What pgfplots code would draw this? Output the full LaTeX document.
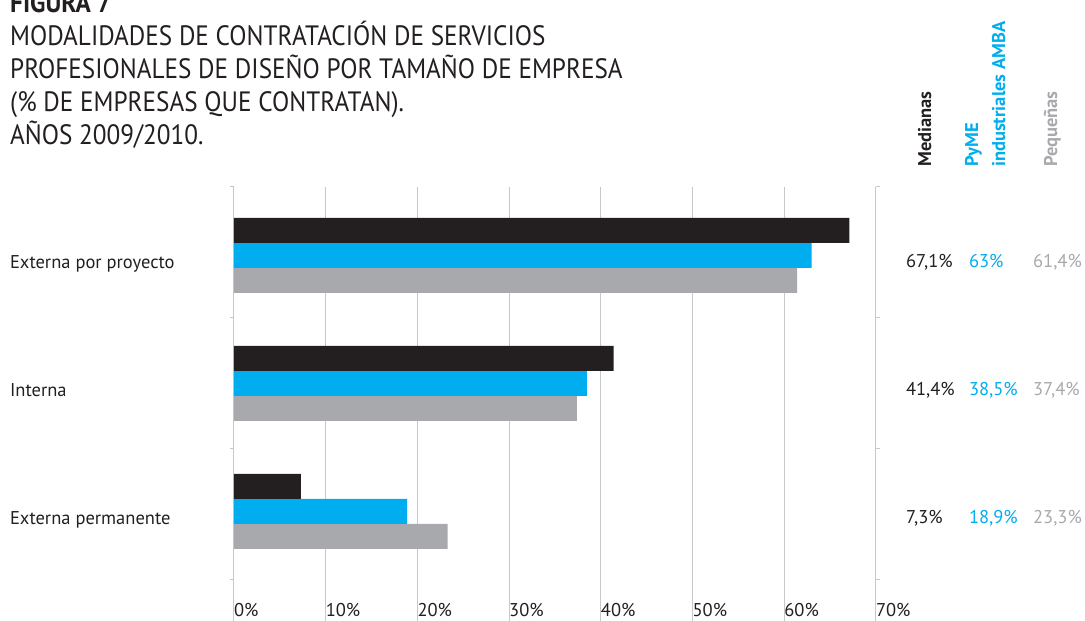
\documentclass[border=0pt]{standalone}
\usepackage{fontspec}
\setmainfont{PT Sans}
\newfontfamily\titlefont[FakeStretch=0.9]{PT Sans}
\usepackage{pgfplots}
\pgfplotsset{compat=1.18}
\definecolor{negro}{HTML}{231F20}
\definecolor{celeste}{HTML}{00AEEF}
\definecolor{gris}{HTML}{A7A9AC}
\definecolor{grilla}{HTML}{C7C8CA}
\newcommand{\fs}[1]{\fontsize{#1bp}{#1bp}\selectfont}

\begin{document}
\begin{tikzpicture}[x=1bp,y=1bp]
\useasboundingbox (0,0) rectangle (1085,621);

% titulo
\begin{scope}[every node/.style={anchor=base west, inner sep=0pt, text=negro, font=\titlefont\fs{28}}]
\node[font=\titlefont\fs{28}\bfseries] at (10,608) {FIGURA 7};
\node at (10,575) {MODALIDADES DE CONTRATACIÓN DE SERVICIOS};
\node at (10,542) {PROFESIONALES DE DISEÑO POR TAMAÑO DE EMPRESA};
\node at (10,509) {(\% DE EMPRESAS QUE CONTRATAN).};
\node at (10,476) {AÑOS 2009/2010.};
\end{scope}

\begin{axis}[
  at={(255,0)}, anchor=south west,
  scale only axis, width=642bp, height=434bp,
  xbar=0pt, bar width=25bp,
  xmin=0, xmax=70,
  ymin=-0.813, ymax=2.5,
  ytick={0.023,1,1.977},
  yticklabels={Externa permanente, Interna, Externa por proyecto},
  yticklabel style={anchor=base west, xshift=-224bp, yshift=-13bp,
    inner sep=0pt, font=\fs{18.5}, text=negro},
  extra y ticks={-0.5,0.5,1.5,2.5},
  extra y tick labels={},
  extra y tick style={major tick length=4bp, tick align=outside},
  major tick length=0pt,
  tick style={grilla, line width=1bp},
  xtick={0,10,...,70},
  xticklabels={0\%,10\%,20\%,30\%,40\%,50\%,60\%,70\%},
  xticklabel style={anchor=base west, inner sep=0pt, yshift=4bp,
    font=\fs{18.5}, text=negro},
  xmajorgrids, grid style={grilla, line width=1bp},
  axis line style={draw=none},
  clip=false,
]
% Pequeñas
\addplot[fill=gris, draw=none] coordinates {(61.4,1.977) (37.4,1) (23.3,0.023)};
% PyME industriales AMBA
\addplot[fill=celeste, draw=none] coordinates {(63,1.977) (38.5,1) (18.9,0.023)};
% Medianas
\addplot[fill=negro, draw=none] coordinates {(67.1,1.977) (41.4,1) (7.3,0.023)};

\begin{scope}[every node/.style={anchor=base west, inner sep=0pt, font=\fs{18.5}}]
\node[text=negro]   at (axis cs:73.27,1.882) {67,1\%};
\node[text=celeste] at (axis cs:80.14,1.882) {63\%};
\node[text=gris]    at (axis cs:87.12,1.882) {61,4\%};
\node[text=negro]   at (axis cs:73.27,0.905) {41,4\%};
\node[text=celeste] at (axis cs:80.14,0.905) {38,5\%};
\node[text=gris]    at (axis cs:87.12,0.905) {37,4\%};
\node[text=negro]   at (axis cs:73.27,-0.072) {7,3\%};
\node[text=celeste] at (axis cs:80.14,-0.072) {18,9\%};
\node[text=gris]    at (axis cs:87.12,-0.072) {23,3\%};
\end{scope}
\end{axis}

% encabezados
\begin{scope}[every node/.style={anchor=base west, inner sep=0pt, rotate=90, font=\fs{18.5}\bfseries}]
\node[text=negro]   at (931,454) {Medianas};
\node[text=celeste] at (978,454) {PyME};
\node[text=celeste] at (1005,454) {industriales AMBA};
\node[text=gris]    at (1057,454) {Pequeñas};
\end{scope}
\end{tikzpicture}
\end{document}
